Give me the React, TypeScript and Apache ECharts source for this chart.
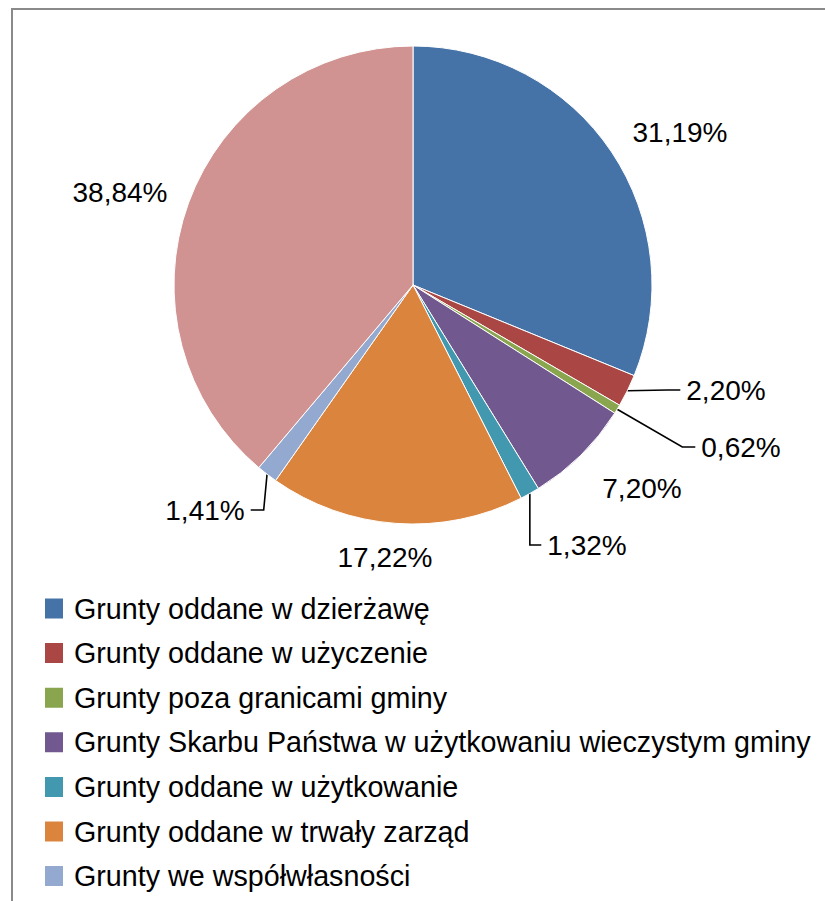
import React, { useEffect, useRef } from "react";
import * as echarts from "echarts";

const categories = [
  "Grunty oddane w dzierżawę",
  "Grunty oddane w użyczenie",
  "Grunty poza granicami gminy",
  "Grunty Skarbu Państwa w użytkowaniu wieczystym gminy",
  "Grunty oddane w użytkowanie",
  "Grunty oddane w trwały zarząd",
  "Grunty we współwłasności",
  "Pozostałe grunty gminy",
];
const shares = [31.19, 2.2, 0.62, 7.2, 1.32, 17.22, 1.41, 38.84];
const colors = ["#4572A7", "#AA4643", "#89A54E", "#71588F", "#4198AF", "#DB843D", "#93A9CF", "#D19392"];
const hasLeader = [false, true, true, false, true, false, true, false];
const labelCenters: number[][] = [
  [680, 132],
  [726, 390],
  [741, 447],
  [642, 488],
  [587, 545],
  [385, 557],
  [205, 510],
  [120, 192],
];
// The legend of the reference is cut off by the frame after the 7th entry.
const legendVisible = categories.slice(0, 7);

const FONT = "'Liberation Sans', Arial, sans-serif";

export default function App() {
  const ref = useRef<HTMLDivElement>(null);
  useEffect(() => {
    if (!ref.current) return;
    const chart = echarts.init(ref.current, undefined, { renderer: "svg" });
    const fmt = (v: number) => v.toFixed(2).replace(".", ",") + "%";
    chart.setOption({
      animation: false,
      backgroundColor: "#ffffff",
      color: colors,
      graphic: [
        {
          type: "rect",
          shape: { x: 12, y: 9, width: 900, height: 1000 },
          style: { fill: "none", stroke: "#8a8a8a", lineWidth: 2 },
          silent: true,
        },
      ],
      legend: {
        orient: "vertical",
        left: 43,
        top: 594,
        height: 400,
        padding: 0,
        itemWidth: 20,
        itemHeight: 22,
        itemGap: 15.6,
        icon: "rect",
        selectedMode: false,
        textStyle: { fontFamily: FONT, fontSize: 28.7, color: "#000", padding: [0, 0, 0, 5] },
        data: legendVisible,
      },
      series: [
        {
          type: "pie",
          center: [413, 285],
          radius: 239,
          startAngle: 90,
          clockwise: true,
          avoidLabelOverlap: false,
          itemStyle: { borderColor: "#ffffff", borderWidth: 1 },
          label: {
            show: true,
            position: "outside",
            fontFamily: FONT,
            fontSize: 28,
            color: "#000",
            padding: [0, 6, 20, 6],
            backgroundColor: "rgba(255,255,255,0)",
            formatter: (p: any) => fmt(p.value),
          },
          labelLine: { show: true, length: 20, length2: 13, lineStyle: { color: "#000", width: 1.6 } },
          labelLayout: (p: any) => {
            const c = labelCenters[p.dataIndex];
            return { x: c[0], y: c[1], align: "center", verticalAlign: "middle" };
          },
          emphasis: { disabled: true },
          data: categories.map((name, i) => ({
            name,
            value: shares[i],
            labelLine: { show: hasLeader[i] },
          })),
        },
      ],
    });
    return () => chart.dispose();
  }, []);
  return (
    <div
      ref={ref}
      style={{ position: "absolute", left: 0, top: 0, width: 825, height: 901 }}
    />
  );
}
